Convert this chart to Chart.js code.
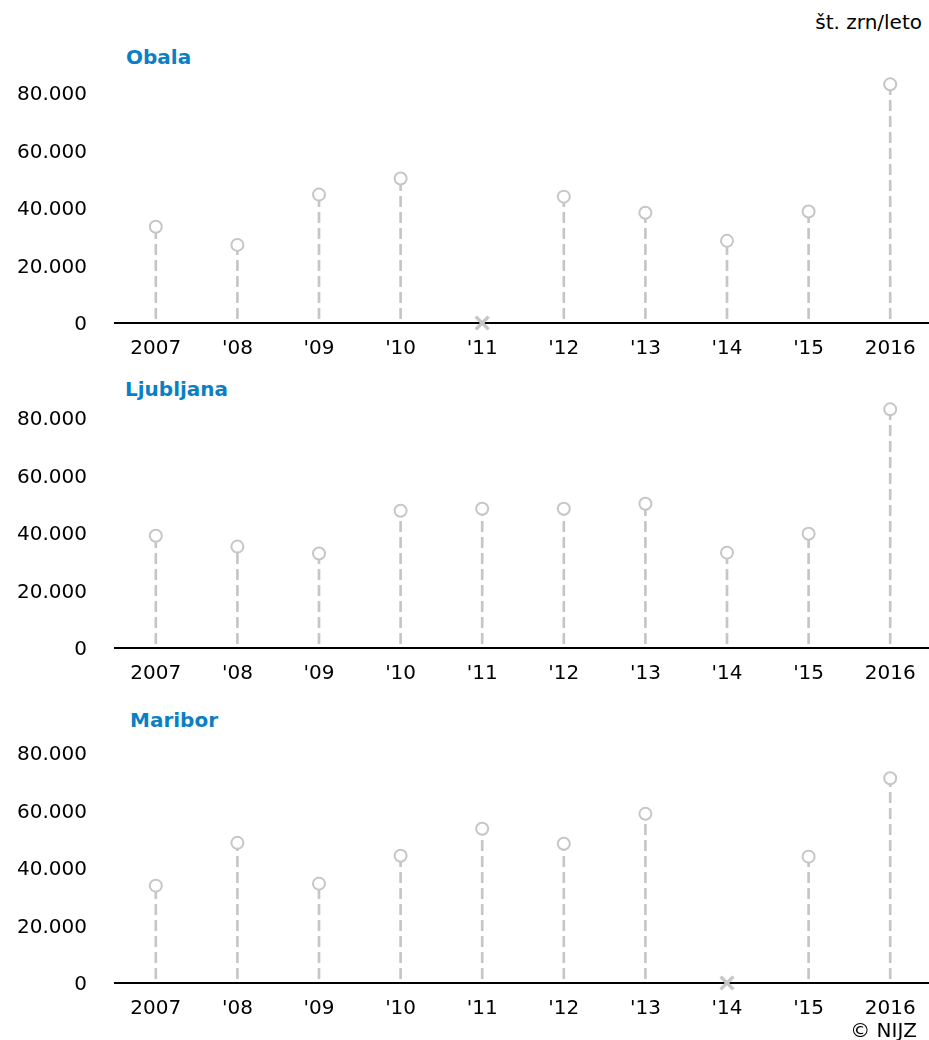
<!DOCTYPE html>
<html><head><meta charset="utf-8">
<script src="https://cdn.jsdelivr.net/npm/chart.js@4.4.0/dist/chart.umd.min.js"></script>
<style>
html,body{margin:0;padding:0;background:#fff;width:929px;height:1040px;overflow:hidden;font-family:"DejaVu Sans",sans-serif;position:relative;}
.t{position:absolute;font-size:20px;line-height:24px;white-space:nowrap;color:#000;}
.ttl{color:#0a7fc5;font-weight:bold;}
canvas{position:absolute;left:0;}
</style></head><body>
<div class="t" style="right:7px;top:10px;">št. zrn/leto</div>
<div class="t ttl" style="left:126px;top:45px">Obala</div>
<div class="t ttl" style="left:125px;top:377px">Ljubljana</div>
<div class="t ttl" style="left:130px;top:708px">Maribor</div>
<canvas id="c1" width="931" height="300"></canvas>
<canvas id="c2" width="931" height="300"></canvas>
<canvas id="c3" width="931" height="300"></canvas>
<div class="t" style="right:12px;top:1018px;">© NIJZ</div>
<script>
const categories = ['2007', "'08", "'09", "'10", "'11", "'12", "'13", "'14", "'15", '2016'];
const obala = [33500, 27200, 44700, 50300, null, 44000, 38400, 28600, 38800, 83100];
const ljubljana = [39100, 35300, 32900, 47800, 48500, 48500, 50200, 33200, 39800, 83100];
const maribor = [33900, 48800, 34600, 44300, 53700, 48500, 58900, null, 44000, 71300];
const yTicks = [0, 20000, 40000, 60000, 80000];
const yMin = 0, yMax = 86000;

const GREY = '#c6c6c6';
const PX_PER_80K = 230;
function fmt(v){ return String(v).replace(/\B(?=(\d{3})+(?!\d))/g, '.'); }

function makeChart(canvas, values){
  const ctx = canvas.getContext('2d');
  const pc = document.createElement('canvas');
  pc.width = 2; pc.height = 16;
  const pctx = pc.getContext('2d');
  pctx.fillStyle = GREY; pctx.fillRect(0, 0, 2, 11);
  const pattern = ctx.createPattern(pc, 'repeat');
  const missing = values.map(v => v === null ? 0 : null);
  return new Chart(ctx, {
    type: 'bar',
    data: {
      labels: categories,
      datasets: [
        { type: 'line', data: values, showLine: false, order: 0, clip: false,
          pointRadius: 6, pointHoverRadius: 6, pointBorderWidth: 2, pointBorderColor: GREY, pointBackgroundColor: '#fff', pointStyle: 'circle' },
        { type: 'line', data: missing, showLine: false, order: 0, clip: false,
          pointRadius: 9, pointHoverRadius: 9, pointBorderWidth: 3.5, pointBorderColor: GREY, pointBackgroundColor: GREY, pointStyle: 'crossRot' },
        { type: 'bar', data: values, order: 1, barThickness: 2, backgroundColor: pattern, borderWidth: 0 }
      ]
    },
    options: {
      responsive: false, animation: false, devicePixelRatio: 1,
      layout: { autoPadding: false, padding: { top: 15, left: 0, right: 0, bottom: 0 } },
      events: [],
      plugins: { legend: { display: false }, tooltip: { enabled: false }, title: { display: false } },
      scales: {
        x: {
          type: 'category', offset: true,
          grid: { display: true, drawOnChartArea: false, drawTicks: false, color: 'rgba(0,0,0,0)' },
          border: { display: true, color: '#000', width: 2 },
          ticks: { color: '#000', font: { family: 'DejaVu Sans', size: 20 }, padding: 14, maxRotation: 0, autoSkip: false },
          afterFit: s => { s.height = 45; }
        },
        y: {
          min: yMin, max: yMax,
          grid: { display: false, drawTicks: false },
          border: { display: false },
          afterBuildTicks: s => { s.ticks = yTicks.map(v => ({ value: v })); },
          ticks: { color: '#000', font: { family: 'DejaVu Sans', size: 20 }, padding: 28, labelOffset: 2, callback: v => fmt(v) },
          afterFit: s => { s.width = 115; }
        }
      }
    }
  });
}

function build(id, values, zeroPx){
  const canvas = document.getElementById(id);
  const areaH = yMax * PX_PER_80K / 80000;
  let ch = makeChart(canvas, values);
  const oTop = ch.chartArea.top;
  const oBot = canvas.height - ch.chartArea.bottom;
  ch.destroy();
  canvas.width = 931;
  canvas.height = Math.round(oTop + areaH + oBot);
  ch = makeChart(canvas, values);
  canvas.style.top = Math.round(zeroPx - ch.scales.y.getPixelForValue(0)) + 'px';
}
build('c1', obala, 323);
build('c2', ljubljana, 648);
build('c3', maribor, 983);
</script>
</body></html>
